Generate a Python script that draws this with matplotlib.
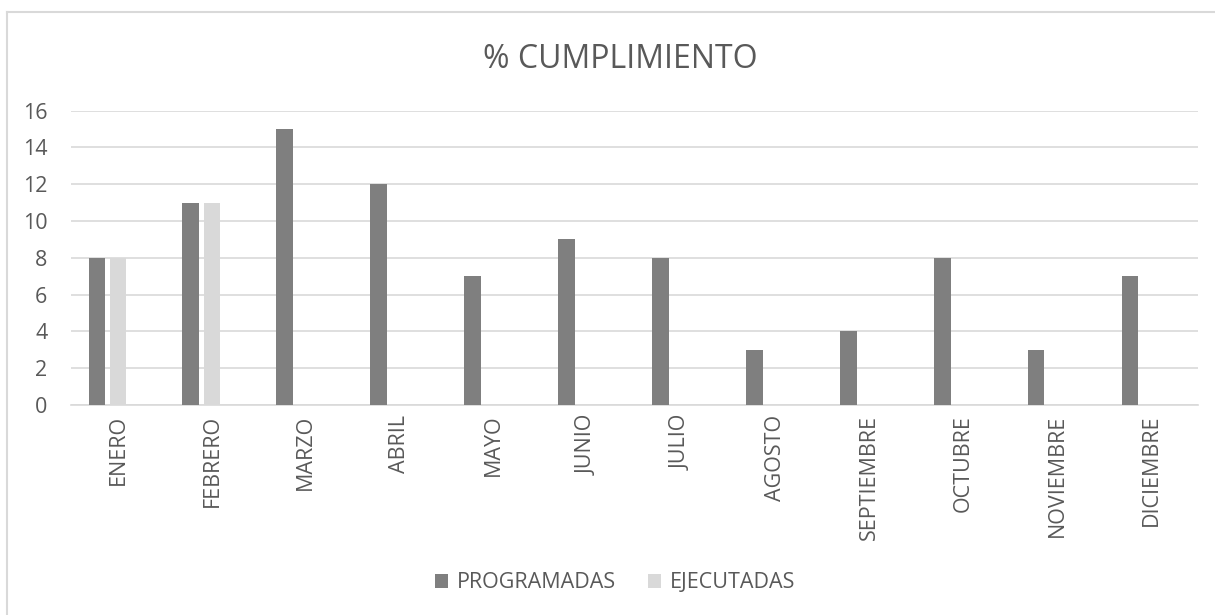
import matplotlib
matplotlib.use("Agg")
import matplotlib.pyplot as plt
import numpy as np
from matplotlib.lines import Line2D
from matplotlib.patches import Patch

months = ["ENERO", "FEBRERO", "MARZO", "ABRIL", "MAYO", "JUNIO", "JULIO",
          "AGOSTO", "SEPTIEMBRE", "OCTUBRE", "NOVIEMBRE", "DICIEMBRE"]
programadas = [8, 11, 15, 12, 7, 9, 8, 3, 4, 8, 3, 7]
ejecutadas = [8, 11, 0, 0, 0, 0, 0, 0, 0, 0, 0, 0]
series_names = ["PROGRAMADAS", "EJECUTADAS"]
title = "% CUMPLIMIENTO"
yticks = [0, 2, 4, 6, 8, 10, 12, 14, 16]

plt.rcParams['font.family'] = ['Open Sans', 'DejaVu Sans']
TXT = "#595959"
DARK = "#7f7f7f"
LIGHT = "#d9d9d9"
GRID = "#d9d9d9"

fig = plt.figure(figsize=(12.15, 6.15), dpi=100)
ax = fig.add_axes([71/1215, 1-405/615, (1198-71)/1215, (405-110.7)/615])

x = np.arange(len(months))
bw = 0.178
step = 0.224
ax.bar(x - step, programadas, width=bw, color=DARK, linewidth=0, zorder=3)
ax.bar(x, ejecutadas, width=bw, color=LIGHT, linewidth=0, zorder=3)

ax.set_xlim(-0.5, len(months) - 0.5)
ax.set_ylim(0, 16)
ax.set_yticks(yticks)
ax.set_yticklabels([str(v) for v in yticks])
ax.yaxis.grid(True, color=GRID, linewidth=1.2, zorder=0)
ax.set_axisbelow(True)
for s in ["top", "right", "left"]:
    ax.spines[s].set_visible(False)
ax.spines["bottom"].set_color(GRID)
ax.spines["bottom"].set_linewidth(1.2)
ax.set_xticks(x)
ax.set_xticklabels(months, rotation=90, va="top", ha="center")
ax.tick_params(axis="x", length=0, pad=7, labelsize=15.5, labelcolor=TXT)
ax.tick_params(axis="y", length=0, pad=17, labelsize=15.5, labelcolor=TXT)

fig.text(620/1215, 1-60/615, title, ha="center", va="center", fontsize=23, color=TXT)

handles = [Patch(facecolor=DARK, edgecolor="none"), Patch(facecolor=LIGHT, edgecolor="none")]
fig.legend(handles, series_names, loc="center", bbox_to_anchor=(615/1215, 1-583/615),
           ncol=2, frameon=False, fontsize=15.5, labelcolor=TXT,
           handlelength=0.6, handleheight=0.6, handletextpad=0.4, columnspacing=1.5)

# chart border (top and left visible; right/bottom cut off)
fig.add_artist(Line2D([6.5/1215, 6.5/1215], [0, 1-12/615], transform=fig.transFigure,
                      color=LIGHT, linewidth=1.5))
fig.add_artist(Line2D([6.5/1215, 1], [1-12/615, 1-12/615], transform=fig.transFigure,
                      color=LIGHT, linewidth=1.5))

fig.savefig("out.png", dpi=100, facecolor="white")
